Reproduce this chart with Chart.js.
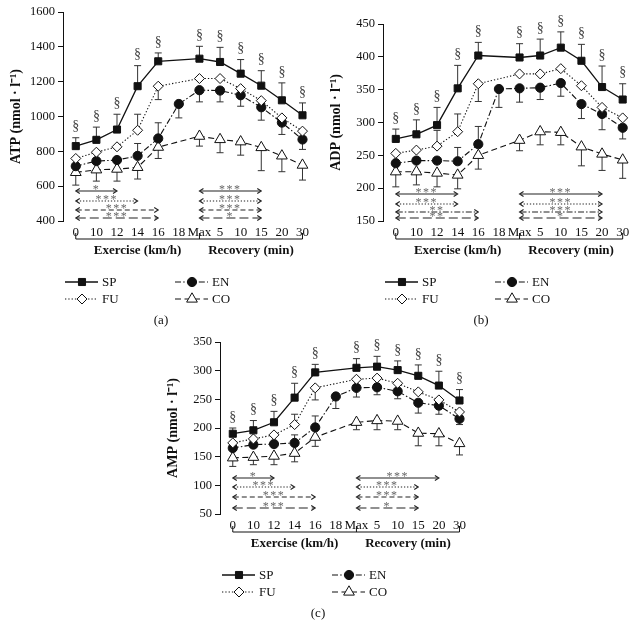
<!DOCTYPE html>
<html>
<head>
<meta charset="utf-8">
<script src="https://cdn.jsdelivr.net/npm/chart.js@4.4.0/dist/chart.umd.min.js"></script>
<style>
    body { margin: 0; background: #fff; width: 642px; height: 640px; position: relative; overflow: hidden; }
    canvas { position: absolute; }
</style>
</head>
<body>
<canvas id="atpChart" width="320" height="330" style="left:0;top:0"></canvas>
<canvas id="adpChart" width="322" height="330" style="left:320px;top:0"></canvas>
<canvas id="ampChart" width="320" height="310" style="left:157px;top:330px"></canvas>
<script>
const categories = ['0', '10', '12', '14', '16', '18', 'Max', '5', '10', '15', '20', '30'];
const phaseLabels = ['Exercise (km/h)', 'Recovery (min)'];
const groups = ['SP', 'FU', 'EN', 'CO'];
// § shown above SP at these points
const sectionAt = [0, 1, 2, 3, 4, 6, 7, 8, 9, 10, 11];

// ATP — mean and SD (positive = bar drawn up, negative = bar drawn down)
const atpTicks = [400, 600, 800, 1000, 1200, 1400, 1600];
const atpSP = [830, 866, 925, 1174, 1317, null, 1332, 1313, 1246, 1177, 1093, 1007];
const atpSPsd = [48, 73, 88, 118, 48, null, 71, 84, 81, 86, 100, 71];
const atpFU = [759, 795, 826, 921, 1174, null, 1218, 1218, 1160, 1091, 992, 916];
const atpFUsd = [null, null, null, 92, -77, null, null, null, null, null, null, null];
const atpEN = [715, 744, 750, 774, 874, 1072, 1151, 1149, 1122, 1053, 965, 868];
const atpENsd = [null, null, null, 71, 90, -80, -67, -65, -63, -74, -68, -57];
const atpCO = [679, 694, 698, 708, 824, null, 887, 868, 855, 822, 774, 721];
const atpCOsd = [-73, -65, -69, -67, -65, null, -57, -76, -77, -133, -91, -86];
const atpSig = [[0, 2, '*'], [0, 3, '***'], [0, 4, '***'], [0, 4, '***'],
                [6, 9, '***'], [6, 9, '***'], [6, 9, '***'], [6, 9, '*']];

// ADP
const adpTicks = [150, 200, 250, 300, 350, 400, 450];
const adpSP = [275, 282, 296, 352, 402, null, 399, 402, 414, 394, 354, 335];
const adpSPsd = [15, 22, 27, 35, 20, null, 21, 25, 24, 25, 32, 24];
const adpFU = [253, 258, 264, 286, 359, null, 374, 374, 382, 356, 323, 307];
const adpFUsd = [null, null, 24, 27, -27, null, null, null, null, null, null, null];
const adpEN = [238, 242, 242, 241, 267, 351, 352, 353, 360, 328, 313, 292];
const adpENsd = [null, null, null, 21, 27, -28, -21, -18, -20, -22, -24, -17];
const adpCO = [225, 225, 223, 220, 250, null, 273, 286, 285, 263, 252, 243];
const adpCOsd = [-23, -20, -21, -21, -21, null, -16, -20, -19, -29, -25, -28];
const adpSig = [[0, 3, '***'], [0, 3, '***'], [0, 4, '**'], [0, 4, '**'],
                [6, 10, '***'], [6, 10, '***'], [6, 10, '***'], [6, 10, '*']];

// AMP
const ampTicks = [50, 100, 150, 200, 250, 300, 350];
const ampSP = [190, 196, 210, 253, 297, null, 305, 307, 301, 291, 274, 248];
const ampSPsd = [10, 17, 19, 25, 14, null, 16, 18, 16, 19, 25, 19];
const ampFU = [174, 181, 188, 206, 270, null, 285, 287, 278, 263, 249, 228];
const ampFUsd = [null, null, null, 18, -21, null, null, null, null, null, null, null];
const ampEN = [165, 171, 172, 174, 201, 255, 270, 271, 264, 244, 239, 216];
const ampENsd = [null, null, null, 14, 20, -21, -16, -13, -13, -18, -15, -10];
const ampCO = [148, 149, 151, 156, 184, null, 210, 213, 212, 191, 190, 173];
const ampCOsd = [-15, -13, -15, -15, -16, null, -13, -16, -15, -22, -21, -20];
const ampSig = [[0, 2, '*'], [0, 3, '***'], [0, 4, '***'], [0, 4, '***'],
                [6, 10, '***'], [6, 9, '***'], [6, 9, '***'], [6, 9, '*']];

const SERIF = "'Liberation Serif', 'Times New Roman', serif";
const INK = '#111';

const seriesStyle = {
    SP: { dash: [], pointStyle: 'rect', radius: 5, fill: INK, width: 1.3 },
    FU: { dash: [1.3, 2], pointStyle: 'rectRot', radius: 5, fill: '#fff', width: 1.1 },
    EN: { dash: [6, 2.2, 1.5, 2.2], pointStyle: 'circle', radius: 4.6, fill: INK, width: 1.1 },
    CO: { dash: [6, 3.5], pointStyle: 'triangle', radius: 6.2, fill: '#fff', width: 1.1 },
};

const DASHES = {
    solid: [],
    dot: [1.3, 1.8],
    dash: [5, 3],
    dashdot: [6, 2, 1.5, 2],
    longdash: [9, 4],
};

function drawMarker(ctx, st, x, y) {
    const r = st.radius;
    ctx.save();
    ctx.setLineDash([]);
    ctx.lineWidth = 1;
    ctx.strokeStyle = INK;
    ctx.fillStyle = st.fill;
    ctx.beginPath();
    if (st.pointStyle === 'rect') {
        const s = Math.SQRT1_2 * r;
        ctx.rect(x - s, y - s, 2 * s, 2 * s);
    } else if (st.pointStyle === 'rectRot') {
        ctx.moveTo(x, y - r);
        ctx.lineTo(x + r, y);
        ctx.lineTo(x, y + r);
        ctx.lineTo(x - r, y);
        ctx.closePath();
    } else if (st.pointStyle === 'circle') {
        ctx.arc(x, y, r, 0, Math.PI * 2);
    } else {
        ctx.moveTo(x, y - r);
        ctx.lineTo(x + 0.866 * r, y + 0.5 * r);
        ctx.lineTo(x - 0.866 * r, y + 0.5 * r);
        ctx.closePath();
    }
    ctx.fill();
    ctx.stroke();
    ctx.restore();
}

const extrasPlugin = {
    id: 'extras',
    beforeDatasetsDraw(chart) {
        // error bars (one-sided)
        const { ctx } = chart;
        const y = chart.scales.y;
        ctx.save();
        ctx.strokeStyle = '#333';
        ctx.lineWidth = 1;
        ctx.setLineDash([]);
        chart.data.datasets.forEach((ds, k) => {
            const meta = chart.getDatasetMeta(k);
            ds.data.forEach((p, j) => {
                if (p.sd === null || p.sd === undefined) return;
                const el = meta.data[j];
                const yEnd = y.getPixelForValue(p.y + p.sd);
                ctx.beginPath();
                ctx.moveTo(el.x, el.y);
                ctx.lineTo(el.x, yEnd);
                ctx.moveTo(el.x - 3.5, yEnd);
                ctx.lineTo(el.x + 3.5, yEnd);
                ctx.stroke();
            });
        });
        ctx.restore();
    },
    afterDraw(chart, args, opts) {
        const { ctx, chartArea: area } = chart;
        const xs = chart.scales.x;
        const ys = chart.scales.y;
        ctx.save();

        // § above the SP error bars
        const sp = chart.data.datasets[0];
        const spMeta = chart.getDatasetMeta(0);
        ctx.fillStyle = '#444';
        ctx.font = '14px ' + SERIF;
        ctx.textAlign = 'center';
        ctx.textBaseline = 'middle';
        sp.data.forEach((p, j) => {
            if (!sectionAt.includes(p.x)) return;
            const el = spMeta.data[j];
            const top = Math.min(el.y, ys.getPixelForValue(p.y + (p.sd || 0)));
            ctx.fillText('§', el.x, top - 11);
        });

        // significance arrows
        opts.sig.forEach(([from, to, stars], i) => {
            const row = i % 4;
            const yy = area.bottom - opts.rows[row];
            const x1 = xs.getPixelForValue(from);
            const x2 = xs.getPixelForValue(to);
            ctx.strokeStyle = '#222';
            ctx.lineWidth = 1.1;
            ctx.setLineDash(DASHES[opts.rowDash[row]]);
            ctx.beginPath();
            ctx.moveTo(x1 + 1, yy);
            ctx.lineTo(x2 - 1, yy);
            ctx.stroke();
            ctx.setLineDash([]);
            ctx.beginPath();
            ctx.moveTo(x1 + 4, yy - 2.5);
            ctx.lineTo(x1, yy);
            ctx.lineTo(x1 + 4, yy + 2.5);
            ctx.moveTo(x2 - 4, yy - 2.5);
            ctx.lineTo(x2, yy);
            ctx.lineTo(x2 - 4, yy + 2.5);
            ctx.stroke();
            ctx.fillStyle = '#666';
            ctx.font = '12px ' + SERIF;
            ctx.textBaseline = 'alphabetic';
            if ('letterSpacing' in ctx) ctx.letterSpacing = '1.5px';
            ctx.fillText(stars, (x1 + x2) / 2, yy + 1.5);
            if ('letterSpacing' in ctx) ctx.letterSpacing = '0px';
        });

        // phase bracket under the tick labels
        const yb = area.bottom + 18;
        const x0 = xs.getPixelForValue(0);
        const xm = xs.getPixelForValue(6);
        const xe = xs.getPixelForValue(categories.length - 1);
        ctx.strokeStyle = INK;
        ctx.lineWidth = 1;
        ctx.beginPath();
        ctx.moveTo(x0, yb - 6);
        ctx.lineTo(x0, yb);
        ctx.lineTo(xe, yb);
        ctx.lineTo(xe, yb - 6);
        ctx.moveTo(xm, yb - 6);
        ctx.lineTo(xm, yb);
        ctx.stroke();
        ctx.fillStyle = INK;
        ctx.font = 'bold 13px ' + SERIF;
        ctx.textBaseline = 'middle';
        ctx.fillText(phaseLabels[0], (x0 + xm) / 2, area.bottom + 30);
        ctx.fillText(phaseLabels[1], (xm + xe) / 2, area.bottom + 30);

        // legend, two columns
        const cols = [area.left + 2, area.left + 112];
        const rows = [area.bottom + 61, area.bottom + 78];
        const place = { SP: [0, 0], EN: [1, 0], FU: [0, 1], CO: [1, 1] };
        ctx.font = '13px ' + SERIF;
        ctx.textAlign = 'left';
        groups.forEach((g) => {
            const st = seriesStyle[g];
            const lx = cols[place[g][0]];
            const ly = rows[place[g][1]];
            ctx.strokeStyle = INK;
            ctx.lineWidth = st.width;
            ctx.setLineDash(st.dash);
            ctx.beginPath();
            ctx.moveTo(lx, ly);
            ctx.lineTo(lx + 33, ly);
            ctx.stroke();
            drawMarker(ctx, st, lx + 17, ly);
            ctx.fillStyle = INK;
            ctx.fillText(g, lx + 37, ly + 1);
        });

        // caption
        ctx.textAlign = 'center';
        ctx.fillText(opts.caption, area.left + 98, area.bottom + 100);
        ctx.restore();
    },
};

function makePanel(id, cfg) {
    const datasets = groups.map((g) => {
        const st = seriesStyle[g];
        return {
            label: g,
            data: cfg.values[g]
                .map((v, i) => ({ x: i, y: v, sd: cfg.sd[g][i] }))
                .filter((p) => p.y !== null),
            borderColor: INK,
            borderWidth: st.width,
            borderDash: st.dash,
            pointStyle: st.pointStyle,
            pointRadius: st.radius,
            pointBorderWidth: 1,
            pointBorderColor: INK,
            pointBackgroundColor: st.fill,
            tension: 0,
        };
    });

    new Chart(document.getElementById(id), {
        type: 'line',
        data: { datasets },
        plugins: [extrasPlugin],
        options: {
            responsive: false,
            animation: false,
            events: [],
            layout: { padding: { top: cfg.padTop, right: cfg.padRight, bottom: cfg.padBottom, left: 0 } },
            plugins: {
                legend: { display: false },
                tooltip: { enabled: false },
                extras: { sig: cfg.sig, rows: cfg.rows, rowDash: cfg.rowDash, caption: cfg.caption },
            },
            scales: {
                x: {
                    type: 'linear',
                    min: -0.62,
                    max: 11.5,
                    afterBuildTicks: (s) => { s.ticks = categories.map((_, i) => ({ value: i })); },
                    afterFit: (s) => { s.height = 45; },
                    grid: { display: false, drawTicks: false },
                    border: { display: false },
                    ticks: {
                        callback: (v) => categories[v],
                        color: INK,
                        font: { family: SERIF, size: 13 },
                        padding: 4,
                        maxRotation: 0,
                        autoSkip: false,
                    },
                },
                y: {
                    min: cfg.ticks[0],
                    max: cfg.ticks[cfg.ticks.length - 1],
                    afterBuildTicks: (s) => { s.ticks = cfg.ticks.map((v) => ({ value: v })); },
                    afterFit: (s) => { s.width = 63; },
                    grid: { drawOnChartArea: false, tickLength: 5, color: INK },
                    border: { color: INK, width: 1 },
                    ticks: {
                        callback: (v) => String(v),
                        color: INK,
                        font: { family: SERIF, size: 12.5 },
                        padding: 3,
                    },
                    title: {
                        display: true,
                        text: cfg.title,
                        color: INK,
                        font: { family: SERIF, size: 14, weight: 'bold' },
                        padding: { top: 8, bottom: 0 },
                    },
                },
            },
        },
    });
}

makePanel('atpChart', {
    title: 'ATP (nmol · l⁻¹)',
    ticks: atpTicks,
    values: { SP: atpSP, FU: atpFU, EN: atpEN, CO: atpCO },
    sd: { SP: atpSPsd, FU: atpFUsd, EN: atpENsd, CO: atpCOsd },
    sig: atpSig,
    rows: [30, 20, 11, 3],
    rowDash: ['solid', 'dot', 'dash', 'longdash'],
    caption: '(a)',
    padTop: 12, padRight: 7, padBottom: 64,
});

makePanel('adpChart', {
    title: 'ADP (nmol · l⁻¹)',
    ticks: adpTicks,
    values: { SP: adpSP, FU: adpFU, EN: adpEN, CO: adpCO },
    sd: { SP: adpSPsd, FU: adpFUsd, EN: adpENsd, CO: adpCOsd },
    sig: adpSig,
    rows: [27, 17, 9, 3],
    rowDash: ['solid', 'dot', 'dashdot', 'longdash'],
    caption: '(b)',
    padTop: 24, padRight: 9, padBottom: 64,
});

makePanel('ampChart', {
    title: 'AMP (nmol · l⁻¹)',
    ticks: ampTicks,
    values: { SP: ampSP, FU: ampFU, EN: ampEN, CO: ampCO },
    sd: { SP: ampSPsd, FU: ampFUsd, EN: ampENsd, CO: ampCOsd },
    sig: ampSig,
    rows: [36, 27, 17, 6],
    rowDash: ['solid', 'dot', 'dash', 'longdash'],
    caption: '(c)',
    padTop: 12, padRight: 7, padBottom: 81,
});
</script>
</body>
</html>
